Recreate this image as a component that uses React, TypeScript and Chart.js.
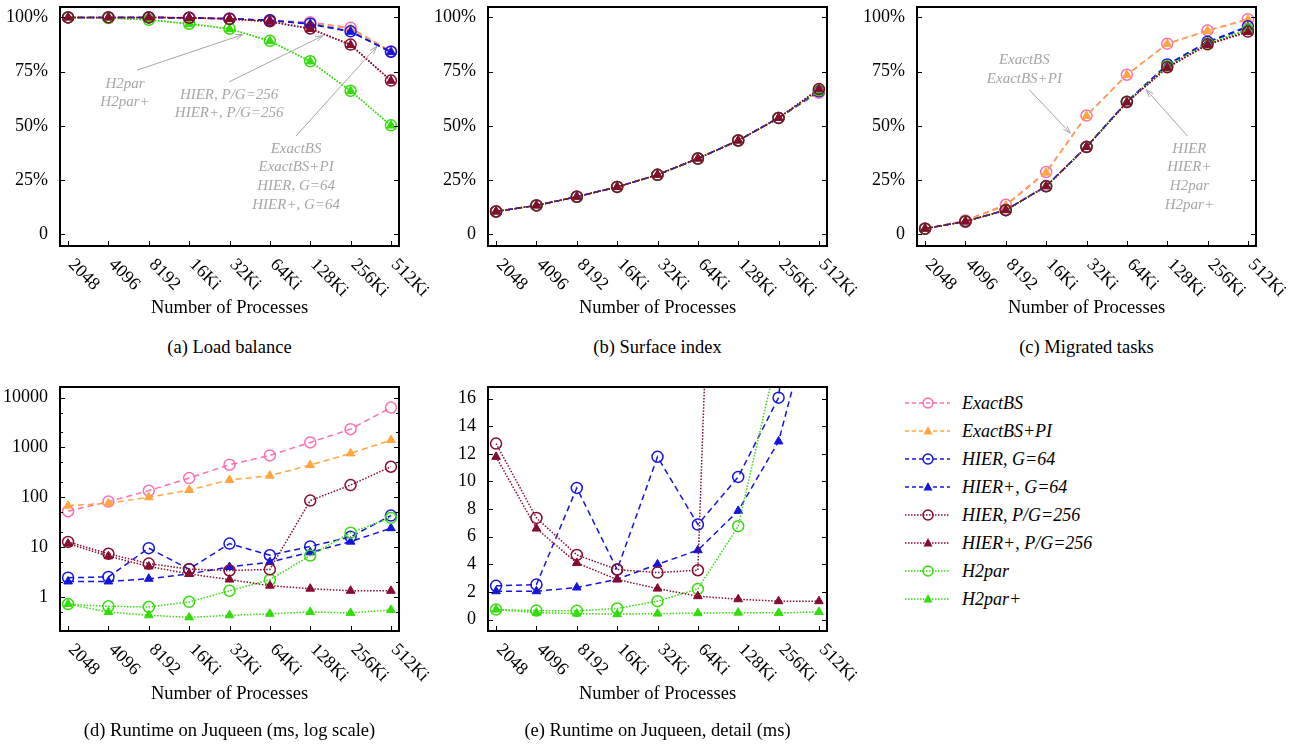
import React, { useEffect, useRef } from 'react';
import { Chart, registerables } from 'chart.js';

Chart.register(...registerables);

const FONT = "'Liberation Serif', 'Times New Roman', serif";

// ---------- categories / tick labels ----------
const processes = ['2048', '4096', '8192', '16Ki', '32Ki', '64Ki', '128Ki', '256Ki', '512Ki'];
const seriesNames = ['ExactBS', 'ExactBS+PI', 'HIER, G=64', 'HIER+, G=64', 'HIER, P/G=256', 'HIER+, P/G=256', 'H2par', 'H2par+'];
const percentTicks = [0, 25, 50, 75, 100];
const logTicks = [1, 10, 100, 1000, 10000];
const logMinorTicks = [0.5, 2, 5, 20, 50, 200, 500, 2000, 5000];
const detailTicks = [0, 2, 4, 6, 8, 10, 12, 14, 16];

// ---------- (a) Load balance (%) ----------
const lbExactBS = [100, 100, 100, 99.9, 99.5, 98.6, 97.8, 95.2, 84.3];
const lbExactBSPI = [100, 100, 100, 99.9, 99.5, 98.5, 97.4, 94.8, 84.5];
const lbHier64 = [100, 100, 100, 99.8, 99.4, 98.7, 97.1, 93.6, 84.2];
const lbHierPlus64 = [100, 100, 100, 99.8, 99.4, 98.6, 96.9, 93.4, 84.0];
const lbHier256 = [100, 100, 100, 99.8, 99.3, 98.2, 94.9, 87.5, 70.9];
const lbHierPlus256 = [100, 100, 100, 99.8, 99.3, 98.0, 94.7, 87.3, 70.8];
const lbH2par = [100, 99.7, 98.9, 97.1, 94.8, 89.2, 79.8, 66.2, 50.3];
const lbH2parPlus = [100, 99.7, 98.9, 97.0, 94.7, 89.1, 79.7, 66.1, 50.2];

// ---------- (b) Surface index (%) ----------
const siExactBS = [10.6, 13.4, 17.4, 21.9, 27.5, 35.0, 43.3, 53.7, 65.3];
const siExactBSPI = [10.6, 13.4, 17.4, 21.9, 27.5, 35.0, 43.3, 53.7, 65.6];
const siHier64 = [10.6, 13.4, 17.4, 21.9, 27.5, 35.0, 43.3, 53.7, 66.0];
const siHierPlus64 = [10.6, 13.4, 17.4, 21.9, 27.5, 35.0, 43.3, 53.7, 66.0];
const siHier256 = [10.6, 13.4, 17.4, 21.9, 27.5, 35.0, 43.3, 53.7, 67.0];
const siHierPlus256 = [10.6, 13.4, 17.4, 21.9, 27.5, 35.0, 43.3, 53.7, 67.0];
const siH2par = [10.6, 13.4, 17.4, 21.9, 27.5, 35.0, 43.3, 53.7, 66.4];
const siH2parPlus = [10.6, 13.4, 17.4, 21.9, 27.5, 35.0, 43.3, 53.7, 66.4];

// ---------- (c) Migrated tasks (%) ----------
const mtExactBS = [2.7, 6.5, 13.7, 28.8, 54.8, 73.6, 87.9, 94.0, 99.2];
const mtExactBSPI = [2.7, 6.3, 13.3, 28.5, 54.6, 73.5, 87.8, 93.8, 99.0];
const mtHier64 = [2.7, 6.0, 11.3, 22.3, 40.4, 61.2, 78.3, 88.8, 95.9];
const mtHierPlus64 = [2.7, 6.0, 11.3, 22.3, 40.4, 61.0, 78.0, 88.5, 95.5];
const mtHier256 = [2.7, 6.0, 11.2, 22.2, 40.3, 61.0, 77.0, 87.6, 93.5];
const mtHierPlus256 = [2.7, 6.0, 11.2, 22.2, 40.3, 60.8, 76.8, 87.4, 93.3];
const mtH2par = [2.7, 6.0, 11.2, 22.2, 40.3, 61.0, 77.5, 88.0, 94.5];
const mtH2parPlus = [2.7, 6.0, 11.2, 22.2, 40.3, 61.0, 77.4, 87.9, 94.3];

// ---------- (d)/(e) Runtime on Juqueen (ms) ----------
const rtExactBS = [52.5, 82, 136, 243, 450, 692, 1259, 2326, 6310];
const rtExactBSPI = [68, 76, 100, 140, 222, 271, 443, 759, 1403];
const rtHier64 = [2.44, 2.53, 9.53, 3.62, 11.78, 6.88, 10.33, 16.07, 43];
const rtHierPlus64 = [2.05, 2.05, 2.32, 2.92, 4.0, 5.02, 7.87, 12.9, 24];
const rtHier256 = [12.74, 7.36, 4.68, 3.62, 3.4, 3.57, 85.8, 176, 410];
const rtHierPlus256 = [11.78, 6.59, 4.1, 2.9, 2.24, 1.69, 1.47, 1.33, 1.33];
const rtH2par = [0.72, 0.65, 0.63, 0.8, 1.33, 2.22, 6.76, 19.5, 38.6];
const rtH2parPlus = [0.72, 0.5, 0.43, 0.39, 0.43, 0.46, 0.5, 0.48, 0.55];

const loadBalance = [lbExactBS, lbExactBSPI, lbHier64, lbHierPlus64, lbHier256, lbHierPlus256, lbH2par, lbH2parPlus];
const surfaceIndex = [siExactBS, siExactBSPI, siHier64, siHierPlus64, siHier256, siHierPlus256, siH2par, siH2parPlus];
const migrated = [mtExactBS, mtExactBSPI, mtHier64, mtHierPlus64, mtHier256, mtHierPlus256, mtH2par, mtH2parPlus];
const runtime = [rtExactBS, rtExactBSPI, rtHier64, rtHierPlus64, rtHier256, rtHierPlus256, rtH2par, rtH2parPlus];

// ---------- styles ----------
const DASH = [6, 4];
const DOT = [1.5, 1.6];
const STYLES = [
  { color: '#ff6eb0', dash: DASH, legendDash: [4, 3], shape: 'circle', order: 7 },
  { color: '#ffa640', dash: DASH, legendDash: [4, 3], shape: 'triangle', order: 6 },
  { color: '#1414e0', dash: DASH, legendDash: [4, 3], shape: 'circle', order: 5 },
  { color: '#1414e0', dash: DASH, legendDash: [4, 3], shape: 'triangle', order: 4 },
  { color: '#860b2e', dash: DOT, legendDash: [1.5, 1.5], shape: 'circle', order: 1 },
  { color: '#860b2e', dash: DOT, legendDash: [1.5, 1.5], shape: 'triangle', order: 0 },
  { color: '#33dd0a', dash: DOT, legendDash: [1.5, 1.5], shape: 'circle', order: 3 },
  { color: '#33dd0a', dash: DOT, legendDash: [1.5, 1.5], shape: 'triangle', order: 2 },
];

// ---------- annotations (data coordinates) ----------
const lbNotes = [
  { lines: ['H2par', 'H2par+'], x: 1.41, y: 69.4, from: [1.71, 75.7], to: [4.33, 92.1] },
  { lines: ['HIER, P/G=256', 'HIER+, P/G=256'], x: 3.99, y: 64.4, from: [3.99, 70.3], to: [6.32, 91.6] },
  { lines: ['ExactBS', 'ExactBS+PI', 'HIER, G=64', 'HIER+, G=64'], x: 5.65, y: 39.5, from: [5.65, 45.4], to: [7.65, 86.6] },
];
const mtNotes = [
  { lines: ['ExactBS', 'ExactBS+PI'], x: 2.46, y: 80.4, from: [2.58, 66.7], to: [3.6, 46.7] },
  { lines: ['HIER', 'HIER+', 'H2par', 'H2par+'], x: 6.55, y: 39.5, from: [6.5, 45.4], to: [5.48, 66.7] },
];

type Note = { lines: string[]; x: number; y: number; from: number[]; to: number[] };

function drawArrow(ctx: CanvasRenderingContext2D, x1: number, y1: number, x2: number, y2: number) {
  const ang = Math.atan2(y2 - y1, x2 - x1);
  const L = 8;
  const w = 0.32;
  ctx.beginPath();
  ctx.moveTo(x1, y1);
  ctx.lineTo(x2, y2);
  ctx.moveTo(x2 - L * Math.cos(ang - w), y2 - L * Math.sin(ang - w));
  ctx.lineTo(x2, y2);
  ctx.lineTo(x2 - L * Math.cos(ang + w), y2 - L * Math.sin(ang + w));
  ctx.stroke();
}

function makeFramePlugin(yTicks: number[], minor: number[] | null, notes: Note[] | null) {
  return {
    id: 'gnuframe',
    afterDatasetsDraw(chart: any) {
      const { ctx, chartArea: a } = chart;
      const xs = chart.scales.x;
      const ys = chart.scales.y;
      ctx.save();
      ctx.setLineDash([]);
      ctx.strokeStyle = '#000';
      ctx.lineWidth = 1;
      ctx.beginPath();
      for (const v of yTicks) {
        const py = Math.round(ys.getPixelForValue(v)) + 0.5;
        ctx.moveTo(a.left, py);
        ctx.lineTo(a.left + 5, py);
        ctx.moveTo(a.right, py);
        ctx.lineTo(a.right - 5, py);
      }
      if (minor) {
        for (const v of minor) {
          const py = Math.round(ys.getPixelForValue(v)) + 0.5;
          if (py < a.top || py > a.bottom) continue;
          ctx.moveTo(a.left, py);
          ctx.lineTo(a.left + 3, py);
          ctx.moveTo(a.right, py);
          ctx.lineTo(a.right - 3, py);
        }
      }
      processes.forEach((_, i) => {
        const px = Math.round(xs.getPixelForValue(i)) + 0.5;
        ctx.moveTo(px, a.bottom);
        ctx.lineTo(px, a.bottom - 5);
      });
      ctx.stroke();
      ctx.lineWidth = 2;
      ctx.strokeRect(a.left, a.top, a.right - a.left, a.bottom - a.top);

      ctx.fillStyle = '#000';
      ctx.font = `18px ${FONT}`;
      ctx.textAlign = 'left';
      ctx.textBaseline = 'middle';
      processes.forEach((lab, i) => {
        const px = xs.getPixelForValue(i);
        ctx.save();
        ctx.translate(px + 3, a.bottom + 16);
        ctx.rotate(Math.PI / 4);
        ctx.fillText(lab, 0, 0);
        ctx.restore();
      });

      if (notes) {
        ctx.fillStyle = '#a6a6a6';
        ctx.strokeStyle = '#a6a6a6';
        ctx.lineWidth = 1;
        ctx.font = `italic 15px ${FONT}`;
        ctx.textAlign = 'center';
        for (const n of notes) {
          const cx = xs.getPixelForValue(n.x);
          const cy = ys.getPixelForValue(n.y);
          n.lines.forEach((ln, k) => ctx.fillText(ln, cx, cy + k * 18.7));
          drawArrow(
            ctx,
            xs.getPixelForValue(n.from[0]),
            ys.getPixelForValue(n.from[1]),
            xs.getPixelForValue(n.to[0]),
            ys.getPixelForValue(n.to[1])
          );
        }
      }
      ctx.restore();
    },
  };
}

type PanelProps = {
  left: number;
  top: number;
  width: number;
  height: number;
  area: { left: number; top: number; right: number; bottom: number };
  yType: 'linear' | 'logarithmic';
  yMin: number;
  yMax: number;
  yTicks: number[];
  yFormat: (v: number) => string;
  minor?: number[] | null;
  series: number[][];
  notes?: Note[] | null;
};

function Panel(p: PanelProps) {
  const ref = useRef<HTMLCanvasElement>(null);
  useEffect(() => {
    const canvas = ref.current;
    if (!canvas) return;
    const datasets = p.series.map((vals, si) => {
      const st = STYLES[si];
      const circle = st.shape === 'circle';
      return {
        label: seriesNames[si],
        data: vals.map((v, i) => ({ x: i, y: v })),
        borderColor: st.color,
        borderWidth: 1.5,
        borderDash: st.dash,
        borderCapStyle: 'butt',
        fill: false,
        tension: 0,
        order: st.order,
        pointStyle: st.shape,
        pointRadius: circle ? 5.5 : 5,
        pointBorderWidth: circle ? 1.5 : 1,
        pointBorderColor: st.color,
        pointBackgroundColor: circle ? 'rgba(0,0,0,0)' : st.color,
      };
    });
    const chart = new Chart(canvas, {
      type: 'line',
      data: { datasets } as any,
      options: {
        animation: false,
        responsive: false,
        devicePixelRatio: 1,
        events: [],
        layout: {
          padding: {
            left: 0,
            top: p.area.top,
            right: p.width - p.area.right,
            bottom: p.height - p.area.bottom,
          },
        },
        plugins: { legend: { display: false }, tooltip: { enabled: false } },
        scales: {
          x: { type: 'linear', min: -0.2, max: 8.2, display: false },
          y: {
            type: p.yType,
            min: p.yMin,
            max: p.yMax,
            position: 'left',
            grid: { display: false, drawTicks: false },
            border: { display: false },
            ticks: {
              color: '#000',
              padding: 12,
              font: { family: FONT, size: 18 },
              callback: (v: any) => p.yFormat(Number(v)),
            },
            afterBuildTicks: (s: any) => {
              s.ticks = p.yTicks.map((v) => ({ value: v }));
            },
            afterFit: (s: any) => {
              s.width = p.area.left;
              s.paddingTop = 0;
              s.paddingBottom = 0;
              s.paddingLeft = 0;
              s.paddingRight = 0;
            },
          },
        },
      } as any,
      plugins: [makeFramePlugin(p.yTicks, p.minor || null, p.notes || null)],
    });
    return () => chart.destroy();
  }, []);
  return (
    <canvas
      ref={ref}
      width={p.width}
      height={p.height}
      style={{ position: 'absolute', left: p.left, top: p.top, width: p.width, height: p.height }}
    />
  );
}

function Label({ cx, cy, size, italic, color, children }: any) {
  return (
    <div
      style={{
        position: 'absolute',
        left: cx - 250,
        top: cy - 12,
        width: 500,
        height: 24,
        lineHeight: '24px',
        textAlign: 'center',
        fontSize: size,
        fontStyle: italic ? 'italic' : 'normal',
        color: color || '#000',
        whiteSpace: 'nowrap',
      }}
    >
      {children}
    </div>
  );
}

const LEGEND_TOP = 403;
const LEGEND_STEP = 28;

function Legend() {
  const ref = useRef<HTMLCanvasElement>(null);
  useEffect(() => {
    const c = ref.current;
    if (!c) return;
    const ctx = c.getContext('2d');
    if (!ctx) return;
    ctx.clearRect(0, 0, c.width, c.height);
    STYLES.forEach((st, i) => {
      const y = 15 + i * LEGEND_STEP;
      ctx.strokeStyle = st.color;
      ctx.lineWidth = 1.5;
      ctx.setLineDash(st.legendDash);
      ctx.beginPath();
      ctx.moveTo(5, y);
      ctx.lineTo(50, y);
      ctx.stroke();
      ctx.setLineDash([]);
      if (st.shape === 'circle') {
        ctx.beginPath();
        ctx.arc(28, y, 5, 0, Math.PI * 2);
        ctx.stroke();
      } else {
        ctx.fillStyle = st.color;
        ctx.beginPath();
        ctx.moveTo(28, y - 5);
        ctx.lineTo(32.5, y + 3.5);
        ctx.lineTo(23.5, y + 3.5);
        ctx.closePath();
        ctx.fill();
      }
    });
  }, []);
  return (
    <>
      <canvas
        ref={ref}
        width={60}
        height={240}
        style={{ position: 'absolute', left: 900, top: LEGEND_TOP - 15, width: 60, height: 240 }}
      />
      {seriesNames.map((n, i) => (
        <div
          key={n}
          style={{
            position: 'absolute',
            left: 962,
            top: LEGEND_TOP + i * LEGEND_STEP - 12,
            height: 24,
            lineHeight: '24px',
            fontSize: 18,
            fontStyle: 'italic',
            whiteSpace: 'nowrap',
          }}
        >
          {n}
        </div>
      ))}
    </>
  );
}

const pct = (v: number) => (v === 0 ? '0' : `${v}%`);
const plain = (v: number) => String(v);

export default function App() {
  return (
    <div
      style={{
        position: 'absolute',
        left: 0,
        top: 0,
        width: 1301,
        height: 746,
        background: '#fff',
        fontFamily: FONT,
        color: '#000',
        overflow: 'hidden',
      }}
    >
      <Panel left={0} top={0} width={430} height={330} area={{ left: 60, top: 3, right: 399, bottom: 246 }}
        yType="linear" yMin={-5.3} yMax={104.8} yTicks={percentTicks} yFormat={pct} series={loadBalance} notes={lbNotes} />
      <Panel left={430} top={0} width={430} height={330} area={{ left: 58, top: 3, right: 397, bottom: 246 }}
        yType="linear" yMin={-5.3} yMax={104.8} yTicks={percentTicks} yFormat={pct} series={surfaceIndex} />
      <Panel left={860} top={0} width={441} height={330} area={{ left: 57, top: 3, right: 396, bottom: 246 }}
        yType="linear" yMin={-5.3} yMax={104.8} yTicks={percentTicks} yFormat={pct} series={migrated} notes={mtNotes} />
      <Panel left={0} top={380} width={430} height={366} area={{ left: 60, top: 7, right: 399, bottom: 251 }}
        yType="logarithmic" yMin={0.208} yMax={16300} yTicks={logTicks} yFormat={plain} minor={logMinorTicks} series={runtime} />
      <Panel left={430} top={380} width={430} height={366} area={{ left: 58, top: 7, right: 397, bottom: 251 }}
        yType="linear" yMin={-0.83} yMax={16.84} yTicks={detailTicks} yFormat={plain} series={runtime} />

      <Label cx={229.5} cy={307} size={18.5}>Number of Processes</Label>
      <Label cx={657.5} cy={307} size={18.5}>Number of Processes</Label>
      <Label cx={1086.5} cy={307} size={18.5}>Number of Processes</Label>
      <Label cx={229.5} cy={693} size={18.5}>Number of Processes</Label>
      <Label cx={657.5} cy={693} size={18.5}>Number of Processes</Label>

      <Label cx={229.5} cy={347} size={18.5}>(a) Load balance</Label>
      <Label cx={657.5} cy={347} size={18.5}>(b) Surface index</Label>
      <Label cx={1086.5} cy={347} size={18.5}>(c) Migrated tasks</Label>
      <Label cx={229.5} cy={730} size={18.5}>(d) Runtime on Juqueen (ms, log scale)</Label>
      <Label cx={657.5} cy={730} size={18.5}>(e) Runtime on Juqueen, detail (ms)</Label>

      <Legend />
    </div>
  );
}
